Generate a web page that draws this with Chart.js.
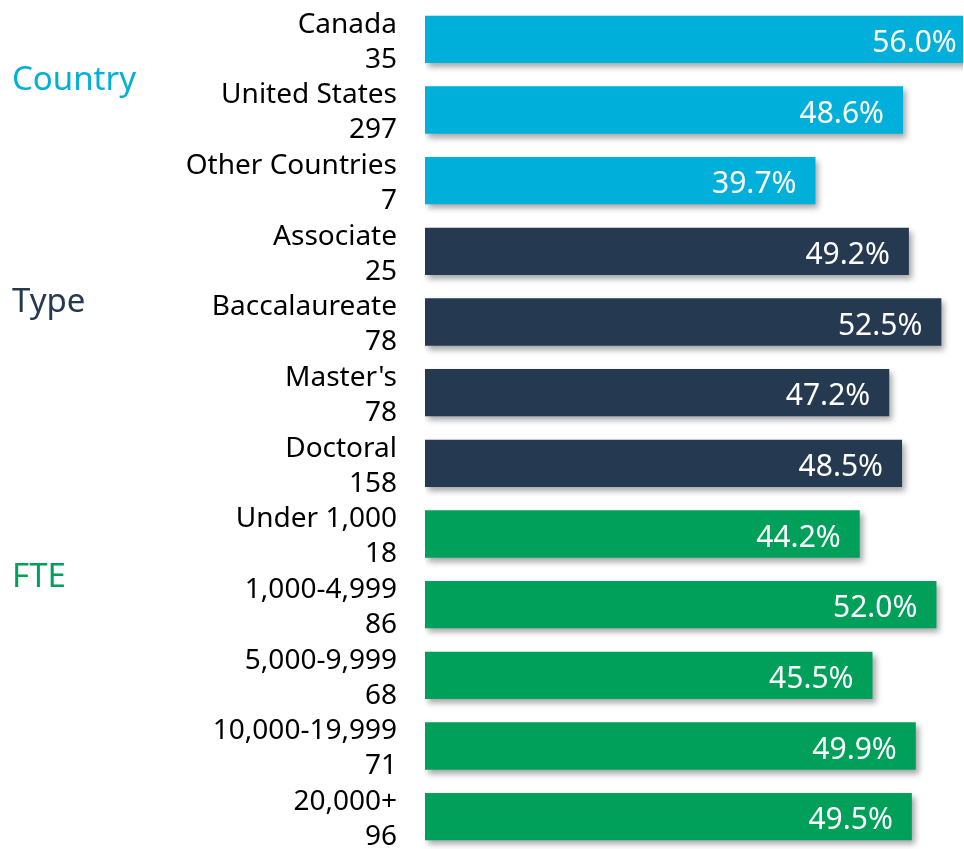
<!DOCTYPE html>
<html>
<head>
<meta charset="utf-8">
<script src="https://cdn.jsdelivr.net/npm/chart.js@4.4.1/dist/chart.umd.min.js"></script>
<style>
  html, body { margin: 0; padding: 0; background: #fff; overflow: hidden; }
  #wrap { position: relative; width: 964px; height: 852px; }
</style>
</head>
<body>
<div id="wrap"><canvas id="grafico"></canvas></div>
<script>
// dados
const categorias = ['Canada', 'United States', 'Other Countries', 'Associate', 'Baccalaureate', "Master's", 'Doctoral',
  'Under 1,000', '1,000-4,999', '5,000-9,999', '10,000-19,999', '20,000+'];
const respostas = [35, 297, 7, 25, 78, 78, 158, 18, 86, 68, 71, 96];
const percentuais = [56.0, 48.6, 39.7, 49.2, 52.5, 47.2, 48.5, 44.2, 52.0, 45.5, 49.9, 49.5];
const grupos = ['Country', 'Type', 'FTE'];
const grupoInicio = [0, 3, 7]; // índice da primeira barra de cada grupo
const grupoCores = ['#00B0DA', '#253A51', '#00A05B'];

const corBarra = percentuais.map((v, i) => {
  let g = 0;
  for (let k = 0; k < grupoInicio.length; k++) if (i >= grupoInicio[k]) g = k;
  return grupoCores[g];
});

const fonte = '"Noto Sans", "Open Sans", sans-serif';

// sombra nas barras
const sombra = {
  id: 'sombra',
  beforeDatasetDraw(chart) {
    const ctx = chart.ctx;
    ctx.save();
    ctx.shadowColor = 'rgba(0,0,0,0.35)';
    ctx.shadowBlur = 6;
    ctx.shadowOffsetX = 3;
    ctx.shadowOffsetY = 4;
  },
  afterDatasetDraw(chart) {
    chart.ctx.restore();
  }
};

// rótulos de valor e nomes dos grupos
const rotulos = {
  id: 'rotulos',
  afterDatasetsDraw(chart) {
    const ctx = chart.ctx;
    const meta = chart.getDatasetMeta(0);
    ctx.save();
    ctx.font = '30px ' + fonte;
    ctx.fillStyle = '#ffffff';
    ctx.textAlign = 'right';
    ctx.textBaseline = 'middle';
    meta.data.forEach((bar, i) => {
      ctx.fillText(percentuais[i].toFixed(1) + '%', bar.x - 19, bar.y + 4);
    });
    const yScale = chart.scales.y;
    const desloc = [0.58, 0.73, 0.62]; // onde fica o nome do grupo, em barras
    ctx.font = '33px ' + fonte;
    ctx.textAlign = 'left';
    grupos.forEach((g, k) => {
      ctx.fillStyle = grupoCores[k];
      ctx.fillText(g, 12, yScale.getPixelForValue(grupoInicio[k] + desloc[k]));
    });
    ctx.restore();
  }
};

new Chart(document.getElementById('grafico'), {
  type: 'bar',
  data: {
    labels: categorias.map((c, i) => [c, String(respostas[i])]),
    datasets: [{
      data: percentuais,
      backgroundColor: corBarra,
      borderWidth: 0,
      barPercentage: 0.67,
      categoryPercentage: 1
    }]
  },
  options: {
    indexAxis: 'y',
    responsive: true,
    maintainAspectRatio: false,
    animation: false,
    layout: { padding: { top: 4, right: 1, bottom: 0, left: 0 } },
    plugins: { legend: { display: false }, tooltip: { enabled: false } },
    scales: {
      x: {
        display: false,
        min: 0,
        max: 54.7
      },
      y: {
        grid: { display: false, drawTicks: false },
        border: { display: false },
        afterFit(s) {
          s.width = 425;
          s.paddingTop = 0;
          s.paddingBottom = 0;
        },
        ticks: {
          autoSkip: false,
          padding: 28,
          labelOffset: 3,
          color: '#000000',
          font: { family: fonte, size: 28, lineHeight: 1.25 }
        }
      }
    }
  },
  plugins: [sombra, rotulos]
});
</script>
</body>
</html>
